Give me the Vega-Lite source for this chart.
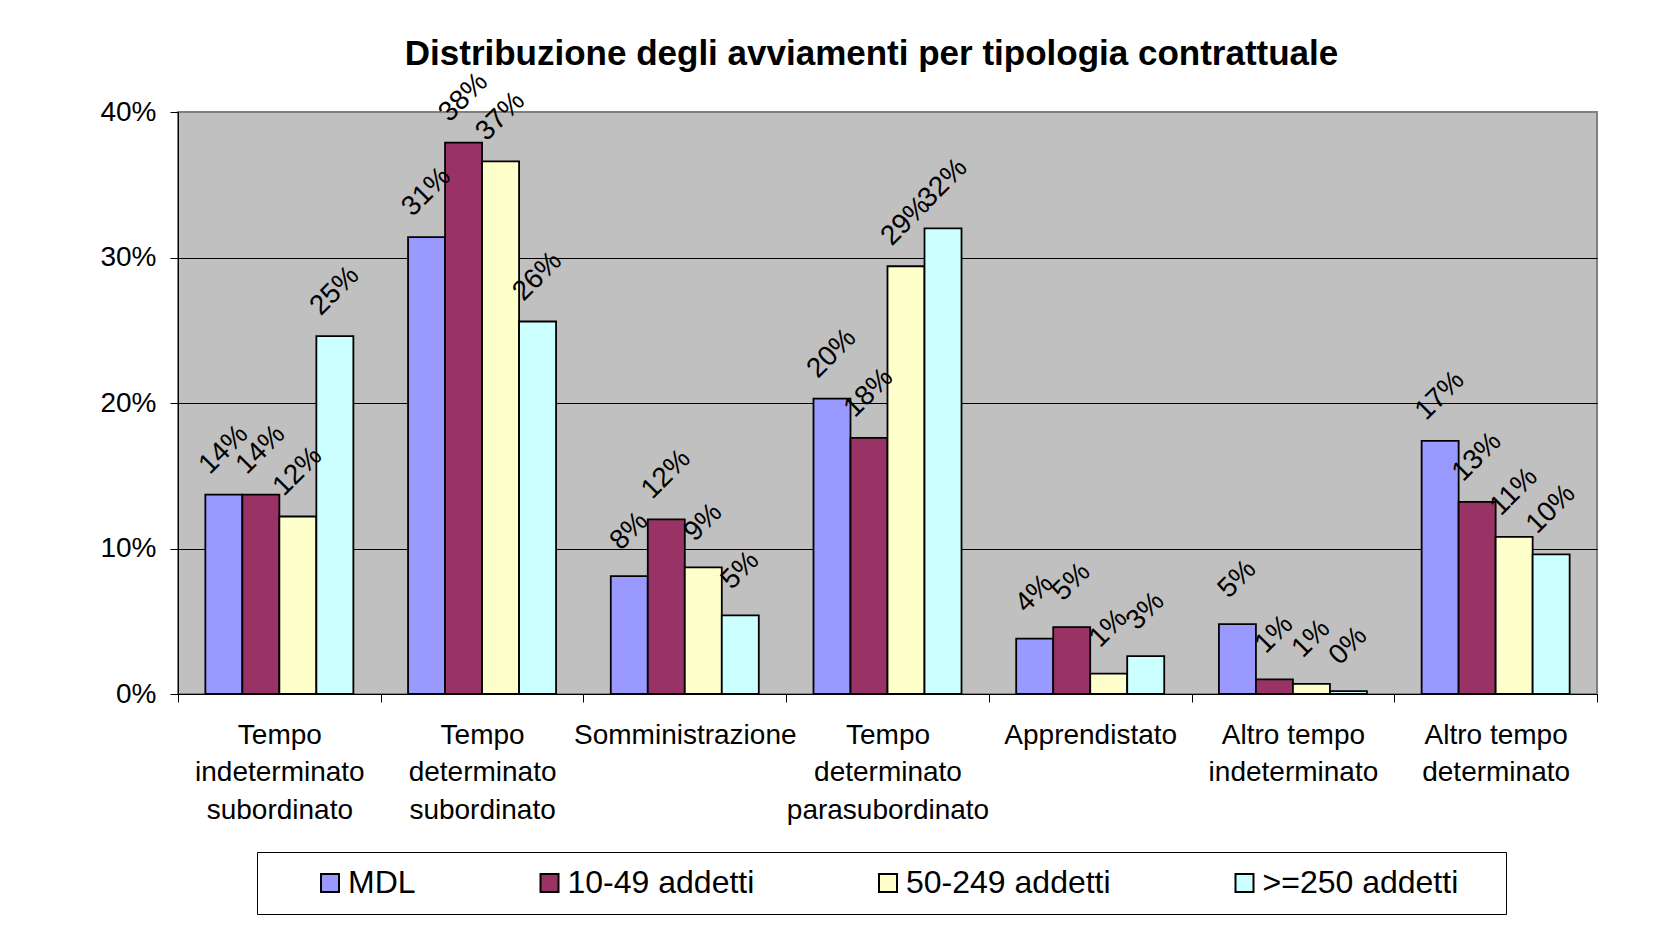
{
  "$schema": "https://vega.github.io/schema/vega-lite/v6.json",
  "autosize": {"type": "none"},
  "width": 1419,
  "height": 582,
  "padding": {"left": 178, "top": 112, "right": 81, "bottom": 247},
  "background": "#ffffff",
  "config": {
    "font": "Liberation Sans",
    "view": {"fill": "#C0C0C0", "stroke": "#808080", "strokeWidth": 2}
  },
  "title": {
    "text": "Distribuzione degli avviamenti per tipologia contrattuale",
    "fontSize": 35,
    "fontWeight": "bold",
    "font": "Liberation Sans",
    "color": "#000000",
    "anchor": "middle",
    "dx": -16,
    "dy": 39,
    "baseline": "bottom",
    "offset": 0
  },
  "data": {
    "values": [
      {"tipologia": "Tempo|indeterminato|subordinato", "serie": "MDL", "valore": 0.137},
      {"tipologia": "Tempo|indeterminato|subordinato", "serie": "10-49 addetti", "valore": 0.137},
      {"tipologia": "Tempo|indeterminato|subordinato", "serie": "50-249 addetti", "valore": 0.122},
      {"tipologia": "Tempo|indeterminato|subordinato", "serie": ">=250 addetti", "valore": 0.246},
      {"tipologia": "Tempo|determinato|subordinato", "serie": "MDL", "valore": 0.314},
      {"tipologia": "Tempo|determinato|subordinato", "serie": "10-49 addetti", "valore": 0.379},
      {"tipologia": "Tempo|determinato|subordinato", "serie": "50-249 addetti", "valore": 0.366},
      {"tipologia": "Tempo|determinato|subordinato", "serie": ">=250 addetti", "valore": 0.256},
      {"tipologia": "Somministrazione", "serie": "MDL", "valore": 0.081},
      {"tipologia": "Somministrazione", "serie": "10-49 addetti", "valore": 0.120},
      {"tipologia": "Somministrazione", "serie": "50-249 addetti", "valore": 0.087},
      {"tipologia": "Somministrazione", "serie": ">=250 addetti", "valore": 0.054},
      {"tipologia": "Tempo|determinato|parasubordinato", "serie": "MDL", "valore": 0.203},
      {"tipologia": "Tempo|determinato|parasubordinato", "serie": "10-49 addetti", "valore": 0.176},
      {"tipologia": "Tempo|determinato|parasubordinato", "serie": "50-249 addetti", "valore": 0.294},
      {"tipologia": "Tempo|determinato|parasubordinato", "serie": ">=250 addetti", "valore": 0.320},
      {"tipologia": "Apprendistato", "serie": "MDL", "valore": 0.038},
      {"tipologia": "Apprendistato", "serie": "10-49 addetti", "valore": 0.046},
      {"tipologia": "Apprendistato", "serie": "50-249 addetti", "valore": 0.014},
      {"tipologia": "Apprendistato", "serie": ">=250 addetti", "valore": 0.026},
      {"tipologia": "Altro tempo|indeterminato", "serie": "MDL", "valore": 0.048},
      {"tipologia": "Altro tempo|indeterminato", "serie": "10-49 addetti", "valore": 0.010},
      {"tipologia": "Altro tempo|indeterminato", "serie": "50-249 addetti", "valore": 0.007},
      {"tipologia": "Altro tempo|indeterminato", "serie": ">=250 addetti", "valore": 0.002},
      {"tipologia": "Altro tempo|determinato", "serie": "MDL", "valore": 0.174},
      {"tipologia": "Altro tempo|determinato", "serie": "10-49 addetti", "valore": 0.132},
      {"tipologia": "Altro tempo|determinato", "serie": "50-249 addetti", "valore": 0.108},
      {"tipologia": "Altro tempo|determinato", "serie": ">=250 addetti", "valore": 0.096}
    ]
  },
  "encoding": {
    "x": {
      "field": "tipologia",
      "type": "nominal",
      "sort": null,
      "scale": {"paddingInner": 0, "paddingOuter": 0},
      "axis": {
        "title": null,
        "labelAngle": 0,
        "labelExpr": "split(datum.label, '|')",
        "labelFontSize": 28,
        "labelFont": "Liberation Sans",
        "labelColor": "#000000",
        "labelLineHeight": 37.5,
        "labelPadding": 19,
        "labelLimit": 400,
        "tickBand": "extent",
        "tickSize": 8,
        "tickColor": "#000000",
        "domainColor": "#000000",
        "domainWidth": 1,
        "grid": false
      }
    },
    "xOffset": {
      "field": "serie",
      "type": "nominal",
      "sort": ["MDL", "10-49 addetti", "50-249 addetti", ">=250 addetti"],
      "scale": {"paddingInner": 0, "paddingOuter": 0.739}
    },
    "y": {
      "field": "valore",
      "type": "quantitative",
      "scale": {"domain": [0, 0.4], "nice": false},
      "axis": {
        "title": null,
        "values": [0, 0.1, 0.2, 0.3, 0.4],
        "format": ".0%",
        "labelFontSize": 28,
        "labelFont": "Liberation Sans",
        "labelColor": "#000000",
        "labelPadding": 14,
        "tickSize": 8,
        "tickColor": "#000000",
        "domainColor": "#000000",
        "domainWidth": 1,
        "grid": true,
        "gridWidth": 1,
        "gridColor": {"condition": {"test": "datum.value > 0.39", "value": "#808080"}, "value": "#000000"}
      }
    }
  },
  "layer": [
    {
      "mark": {"type": "bar", "stroke": "#000000", "strokeWidth": 1.8},
      "encoding": {
        "color": {
          "field": "serie",
          "type": "nominal",
          "sort": ["MDL", "10-49 addetti", "50-249 addetti", ">=250 addetti"],
          "scale": {
            "domain": ["MDL", "10-49 addetti", "50-249 addetti", ">=250 addetti"],
            "range": ["#9999FF", "#993366", "#FFFFCC", "#CCFFFF"]
          },
          "legend": {
            "orient": "none",
            "legendX": 79,
            "legendY": 740,
            "direction": "horizontal",
            "title": "\u00a0",
            "titleOrient": "left",
            "titleFontSize": 30,
            "titlePadding": 42,
            "padding": 15,
            "strokeColor": "#000000",
            "fillColor": "#ffffff",
            "symbolType": "square",
            "symbolSize": 324,
            "symbolStrokeColor": "#000000",
            "symbolStrokeWidth": 2,
            "symbolOpacity": 1,
            "labelFontSize": 32,
            "labelFont": "Liberation Sans",
            "labelColor": "#000000",
            "labelOffset": 2,
            "labelLimit": 500,
            "columnPadding": 117.5,
            "labelExpr": "datum.value == '>=250 addetti' ? datum.label + '\u00a0\u2800' : datum.label"
          }
        }
      }
    },
    {
      "mark": {
        "type": "text",
        "angle": 315,
        "align": "center",
        "baseline": "middle",
        "dx": 31.8,
        "dy": -31.8,
        "fontSize": 28,
        "font": "Liberation Sans",
        "color": "#000000"
      },
      "encoding": {
        "text": {"field": "valore", "type": "quantitative", "format": ".0%"}
      }
    }
  ]
}
